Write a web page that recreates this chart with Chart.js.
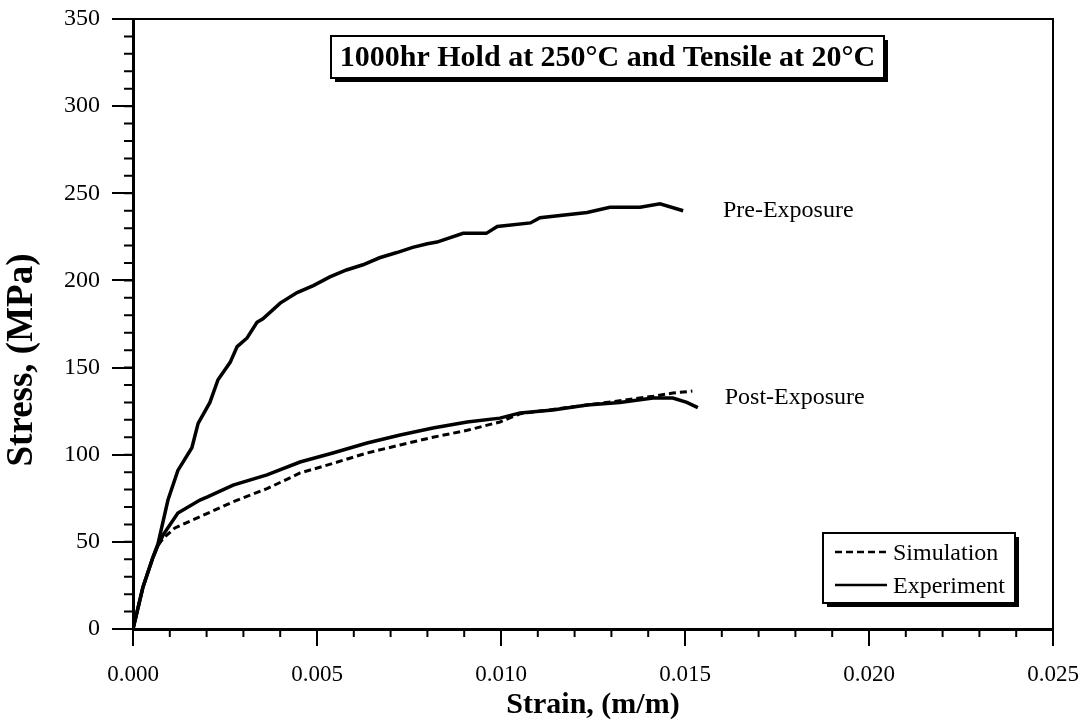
<!DOCTYPE html>
<html lang="en">
<head>
<meta charset="UTF-8">
<title>1000hr Hold at 250°C and Tensile at 20°C</title>
<script src="https://cdn.jsdelivr.net/npm/chart.js"></script>
<style>
body { margin: 0; background: #fff; }
</style>
</head>
<body>
<canvas id="chart" width="1081" height="726"></canvas>
<script>
// Pre-Exposure, experiment
const preStrain = [0, 0.00027, 0.00054, 0.00068, 0.00095, 0.00122, 0.00160, 0.00177, 0.00209, 0.00231, 0.00264, 0.00283, 0.00310, 0.00337, 0.00353, 0.00400, 0.00446, 0.00490, 0.00535, 0.00580, 0.00625, 0.00670, 0.00717, 0.00760, 0.00800, 0.00826, 0.00897, 0.00960, 0.00990, 0.01080, 0.01106, 0.01234, 0.01296, 0.01378, 0.01432, 0.01495];
const preStress = [0, 24, 41, 49, 74, 91, 104, 118, 130, 143, 153, 162, 167, 176, 178, 187, 193, 197, 202, 206, 209, 213, 216, 219, 221, 222, 227, 227, 231, 233, 236, 239, 242, 242, 244, 240];

// Post-Exposure, experiment
const postStrain = [0, 0.00027, 0.00054, 0.00068, 0.00082, 0.00122, 0.00182, 0.00204, 0.00272, 0.00364, 0.00454, 0.00543, 0.00636, 0.00726, 0.00815, 0.00908, 0.00997, 0.01052, 0.01141, 0.01234, 0.01323, 0.01413, 0.01467, 0.01505, 0.01535];
const postStress = [0, 24, 41, 48, 54, 66.5, 74, 76, 82.6, 88.4, 95.8, 101, 106.7, 111.3, 115.3, 118.8, 121, 124, 125.6, 128.5, 130, 132.5, 132.5, 130, 127];

// Post-Exposure, simulation
const simStrain = [0, 0.00027, 0.00054, 0.00068, 0.00082, 0.00114, 0.00204, 0.00272, 0.00364, 0.00454, 0.00543, 0.00636, 0.00726, 0.00815, 0.00908, 0.00997, 0.01052, 0.01141, 0.01234, 0.01323, 0.01413, 0.01467, 0.0152];
const simStress = [0, 24, 41, 48, 52, 58, 66.5, 73, 80.5, 89.5, 95, 101, 105.6, 110, 114, 118.8, 123.5, 126, 128.5, 131, 133.5, 135.4, 136.5];

const xTickValues = [0, 0.005, 0.010, 0.015, 0.020, 0.025];
const yTickValues = [0, 50, 100, 150, 200, 250, 300, 350];
const xMinorStep = 0.001;
const yMinorStep = 10;

const seriesNames = ['Simulation', 'Experiment'];
const curveLabels = [
  { text: 'Pre-Exposure', x: 0.01603, y: 240 },
  { text: 'Post-Exposure', x: 0.01608, y: 132.5 }
];
const boxTitle = '1000hr Hold at 250°C and Tensile at 20°C';

const serif = "'Liberation Serif', 'Times New Roman', serif";
Chart.defaults.font.family = serif;
Chart.defaults.color = '#000';

function pts(xs, ys) {
  return xs.map((v, i) => ({ x: v, y: ys[i] }));
}

// frame, minor ticks, y title, title box, legend, curve names
const decor = {
  id: 'decor',
  afterDraw(chart) {
    const { ctx, chartArea: a, scales: { x, y } } = chart;
    ctx.save();
    ctx.strokeStyle = '#000';
    ctx.fillStyle = '#000';

    ctx.lineWidth = 2;
    ctx.beginPath();
    ctx.moveTo(a.left, a.top);
    ctx.lineTo(a.right, a.top);
    ctx.lineTo(a.right, a.bottom);
    ctx.stroke();

    ctx.beginPath();
    const nx = Math.round((x.max - x.min) / xMinorStep);
    for (let i = 0; i <= nx; i++) {
      const px = x.getPixelForValue(x.min + i * xMinorStep);
      ctx.moveTo(px, a.bottom);
      ctx.lineTo(px, a.bottom + 8);
    }
    const ny = Math.round((y.max - y.min) / yMinorStep);
    for (let i = 0; i <= ny; i++) {
      const py = y.getPixelForValue(y.min + i * yMinorStep);
      ctx.moveTo(a.left, py);
      ctx.lineTo(a.left - 9, py);
    }
    ctx.stroke();

    // y axis title
    ctx.save();
    ctx.translate(22, 360);
    ctx.rotate(-Math.PI / 2);
    ctx.font = 'bold 37px ' + serif;
    ctx.textAlign = 'center';
    ctx.textBaseline = 'middle';
    ctx.fillText('Stress, (MPa)', 0, 0);
    ctx.restore();

    // title box
    const tb = { l: 331, t: 36, w: 553, h: 42 };
    ctx.fillRect(tb.l + 4, tb.t + 4, tb.w, tb.h);
    ctx.fillStyle = '#fff';
    ctx.fillRect(tb.l, tb.t, tb.w, tb.h);
    ctx.lineWidth = 2;
    ctx.strokeRect(tb.l, tb.t, tb.w, tb.h);
    ctx.fillStyle = '#000';
    ctx.font = 'bold 30px ' + serif;
    ctx.textAlign = 'center';
    ctx.textBaseline = 'middle';
    ctx.fillText(boxTitle, tb.l + tb.w / 2, tb.t + tb.h / 2 + 1);

    // curve names
    ctx.font = '24px ' + serif;
    ctx.textAlign = 'left';
    curveLabels.forEach(c => {
      ctx.fillText(c.text, x.getPixelForValue(c.x), y.getPixelForValue(c.y));
    });

    // legend
    const lg = { l: 823, t: 533, w: 192, h: 70 };
    ctx.fillRect(lg.l + 4, lg.t + 4, lg.w, lg.h);
    ctx.fillStyle = '#fff';
    ctx.fillRect(lg.l, lg.t, lg.w, lg.h);
    ctx.strokeRect(lg.l, lg.t, lg.w, lg.h);
    ctx.fillStyle = '#000';
    const styles = [chart.data.datasets[2], chart.data.datasets[1]];
    seriesNames.forEach((name, i) => {
      const ly = lg.t + 19 + i * 33;
      ctx.save();
      ctx.lineWidth = 2.5;
      ctx.setLineDash(styles[i].borderDash || []);
      ctx.beginPath();
      ctx.moveTo(lg.l + 12, ly);
      ctx.lineTo(lg.l + 64, ly);
      ctx.stroke();
      ctx.restore();
      ctx.fillText(name, lg.l + 70, ly + 2);
    });
    ctx.restore();
  }
};

new Chart(document.getElementById('chart'), {
  type: 'scatter',
  data: {
    datasets: [
      { label: 'Pre-Exposure Experiment', data: pts(preStrain, preStress), showLine: true,
        borderColor: '#000', borderWidth: 3.5, pointRadius: 0, tension: 0 },
      { label: 'Post-Exposure Experiment', data: pts(postStrain, postStress), showLine: true,
        borderColor: '#000', borderWidth: 3.5, pointRadius: 0, tension: 0 },
      { label: 'Post-Exposure Simulation', data: pts(simStrain, simStress), showLine: true,
        borderColor: '#000', borderWidth: 3, borderDash: [7, 4], pointRadius: 0, tension: 0 }
    ]
  },
  options: {
    responsive: false,
    animation: false,
    layout: { padding: { top: 19, right: 28, left: 0, bottom: 0 } },
    plugins: { legend: { display: false }, tooltip: { enabled: false } },
    scales: {
      x: {
        type: 'linear',
        min: 0,
        max: 0.025,
        afterBuildTicks: s => { s.ticks = xTickValues.map(v => ({ value: v })); },
        afterFit: s => { s.height = 97; s.paddingLeft = 0; s.paddingRight = 0; },
        ticks: { font: { size: 23 }, padding: 15, maxRotation: 0, callback: v => v.toFixed(3) },
        grid: { drawOnChartArea: false, drawTicks: true, tickLength: 17, color: '#000', lineWidth: 2 },
        border: { display: true, color: '#000', width: 3 },
        title: { display: true, text: 'Strain, (m/m)', font: { size: 30, weight: 'bold' }, padding: { top: 0, bottom: 3 } }
      },
      y: {
        type: 'linear',
        min: 0,
        max: 350,
        afterBuildTicks: s => { s.ticks = yTickValues.map(v => ({ value: v })); },
        afterFit: s => { s.width = 133; s.paddingTop = 0; s.paddingBottom = 0; },
        ticks: { font: { size: 24 }, padding: 12 },
        grid: { drawOnChartArea: false, drawTicks: true, tickLength: 21, color: '#000', lineWidth: 2 },
        border: { display: true, color: '#000', width: 3 }
      }
    }
  },
  plugins: [decor]
});
</script>
</body>
</html>
